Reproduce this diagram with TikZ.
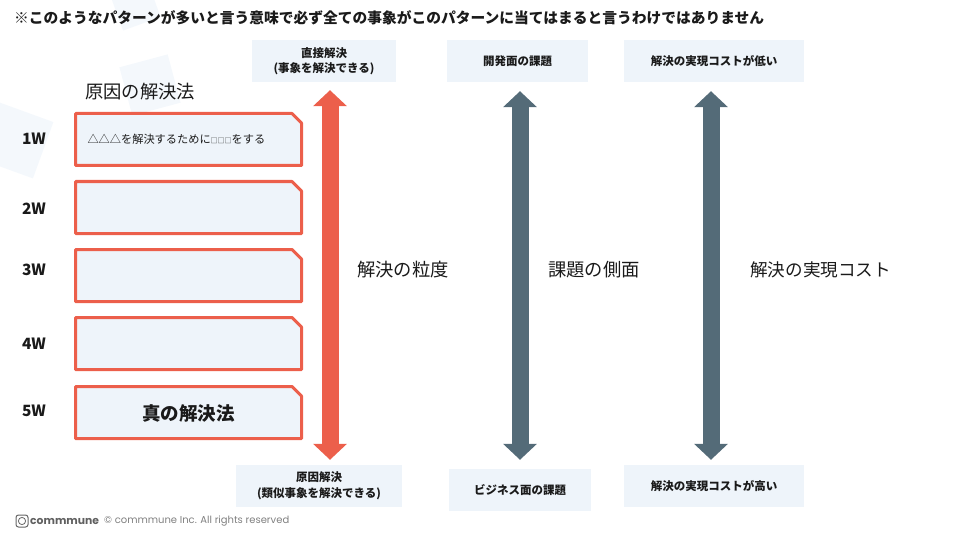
\documentclass[tikz,border=0pt]{standalone}
\usepackage{fontspec}
\usepackage{tikz}
\usetikzlibrary{math,arrows.meta}
\setmainfont{Noto Sans CJK JP}
\newfontfamily\logofont{Poppins}
\definecolor{wred}{HTML}{EC5F4B}
\definecolor{wslate}{HTML}{546B78}
\definecolor{wfill}{HTML}{EEF4FA}
\definecolor{wpale}{HTML}{F4F8FC}
\definecolor{wtext}{HTML}{1A1A1A}
% frame of one why box: #1 = top edge
\newcommand{\whyframe}[1]{\filldraw[draw=wred, fill=wfill, line width=3pt, line join=round]
  (75.5,#1+1.5) -- (292,#1+1.5) -- (301.5,#1+11) -- (301.5,#1+53.5) -- (75.5,#1+53.5) -- cycle;}
\tikzset{
  whybox/.style={minimum width=226pt, minimum height=52pt, inner sep=0pt, text=wtext},
  endbox/.style={fill=wfill, minimum height=42pt, inner sep=0pt, align=center,
    text=wtext, font=\bfseries\fontsize{11.5}{15.5}\selectfont},
  bigarrow/.style={line width=17pt, {Triangle[width=33pt,length=16pt]}-{Triangle[width=33pt,length=16pt]}},
  wlabel/.style={inner sep=0pt, text=wtext, font=\bfseries\fontsize{15.5}{16}\selectfont},
  axislabel/.style={anchor=west, inner sep=0pt, text=wtext, font=\fontsize{18.3}{20}\selectfont}
}

\begin{document}
\begin{tikzpicture}[x=1pt,y=-1pt]
      \useasboundingbox (0,0) rectangle (960,540);
      % faint background shapes
      \fill[wpale, rotate around={20:(135,5)}] (115,-15) rectangle (155,25);
      \fill[wpale, rotate around={15:(150,85)}] (125,60) rectangle (175,110);
      \fill[wpale, rotate around={-20:(15,140)}] (-15,110) rectangle (45,170);
      % title
      \node[anchor=west, inner sep=0pt, text=wtext, font=\bfseries\fontsize{14.75}{16}\selectfont] (title) at (14,18) {※このようなパターンが多いと言う意味で必ず全ての事象がこのパターンに当てはまると言うわけではありません};
      % the five why boxes
      \node[axislabel] (cause) at (85,92) {原因の解決法};
      \whyframe{112}
      \whyframe{180}
      \whyframe{248}
      \whyframe{316}
      \whyframe{385}
      \node[whybox, text width=202pt, align=left, font=\fontsize{11.2}{13}\selectfont] (why1) at (188.5,139.5) {△△△を解決するために{\fontsize{7}{8}\selectfont □□□}をする};
      \node[whybox] (why2) at (188.5,207.5) {};
      \node[whybox] (why3) at (188.5,275.5) {};
      \node[whybox] (why4) at (188.5,343.5) {};
      \node[whybox, font=\bfseries\fontsize{18.5}{20}\selectfont] (why5) at (188.5,413) {真の解決法};
      \node[wlabel] (w1) at (34,139) {1W};
      \node[wlabel] (w2) at (34,209) {2W};
      \node[wlabel] (w3) at (34,270) {3W};
      \node[wlabel] (w4) at (34,344) {4W};
      \node[wlabel] (w5) at (34,411) {5W};
      % ends of the three scales
      \node[endbox, minimum width=144pt] (direct) at (324,61) {直接解決\\(事象を解決できる)};
      \node[endbox, minimum width=166pt] (root) at (319,486) {原因解決\\(類似事象を解決できる)};
      \node[endbox, minimum width=141pt] (devside) at (517.5,61) {開発面の課題};
      \node[endbox, minimum width=142pt] (bizside) at (520,490) {ビジネス面の課題};
      \node[endbox, minimum width=180pt] (lowcost) at (714,61) {解決の実現コストが低い};
      \node[endbox, minimum width=180pt] (highcost) at (714,486) {解決の実現コストが高い};
      % scales
      \draw[bigarrow, wred] ([xshift=6pt,yshift=-8pt]direct.south) -- ([xshift=11pt,yshift=5pt]root.north);
      \draw[bigarrow, wslate] ([xshift=2.5pt,yshift=-9pt]devside.south) -- ([yshift=9pt]bizside.north);
      \draw[bigarrow, wslate] ([xshift=-3pt,yshift=-9pt]lowcost.south) -- ([xshift=-3pt,yshift=5pt]highcost.north);
      \node[axislabel] (grain) at (357,270) {解決の粒度};
      \node[axislabel] (aspect) at (548,270) {課題の側面};
      \node[axislabel, font=\fontsize{17.6}{20}\selectfont] (cost) at (750,270) {解決の実現コスト};
      % footer
      \draw[gray!80!black, line width=1pt, rounded corners=2.5pt] (16,515) rectangle (28,527);
      \draw[gray!80!black, line width=0.8pt] (22,521) circle (3.6pt);
      \node[anchor=west, inner sep=0pt, text=gray!75!black, font=\logofont\bfseries\fontsize{10.8}{13}\selectfont] (logo) at (30,521) {commmune};
      \node[anchor=west, inner sep=0pt, text=gray, font=\logofont\fontsize{10}{12}\selectfont] (rights) at (104,521) {© commmune Inc. All rights reserved};
\end{tikzpicture}
\end{document}
